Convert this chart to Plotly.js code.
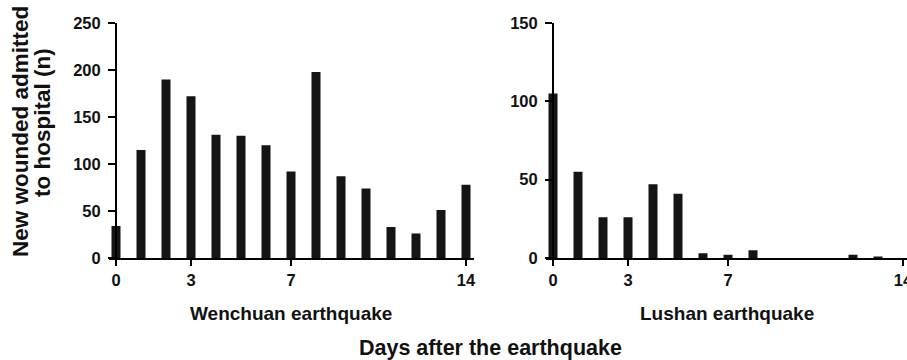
<!DOCTYPE html>
<html>
<head>
<meta charset="utf-8">
<script src="https://cdn.plot.ly/plotly-3.0.1.min.js"></script>
<style>html,body{margin:0;padding:0;background:#fff;}#chart{width:907px;height:360px;}</style>
</head>
<body>
<div id="chart"></div>
<script>
const days = [0,1,2,3,4,5,6,7,8,9,10,11,12,13,14];
const wenchuan = [34,115,190,172,131,130,120,92,198,87,74,33,26,51,78];
const lushan = [105,55,26,26,47,41,3,2,5,0,0,0,2,1,0];
const xTickVals = [0,3,7,14];
const xTickText = ['0','3','7','14'];
const yTitleLine1 = 'New wounded admitted';
const yTitleLine2 = 'to hospital (n)';
const leftLabel = 'Wenchuan earthquake';
const rightLabel = 'Lushan earthquake';
const xTitle = 'Days after the earthquake';

const W = 907, H = 360;
const FONT = '"Liberation Sans", Arial, Helvetica, sans-serif';
const barColor = '#151515';

const traces = [
  {type:'bar', x:days, y:wenchuan, xaxis:'x', yaxis:'y', width:0.36,
   marker:{color:barColor, line:{width:0}}, hoverinfo:'x+y'},
  {type:'bar', x:days, y:lushan, xaxis:'x2', yaxis:'y2', width:0.36,
   marker:{color:barColor, line:{width:0}}, hoverinfo:'x+y'}
];

const tickFont = {family:FONT, size:16.5, color:'#111', weight:'bold'};
const axisCommon = {
  showgrid:false, zeroline:false, showline:true, linecolor:'#000', linewidth:2,
  ticks:'outside', tickcolor:'#000', tickwidth:2, tickfont:tickFont, fixedrange:true,
  ticklabeloverflow:'allow'
};

const yDom = [(H-258)/H, (H-23)/H];

const layout = {
  width:W, height:H,
  margin:{l:0,r:0,t:0,b:0},
  paper_bgcolor:'#fff', plot_bgcolor:'rgba(0,0,0,0)',
  showlegend:false,
  font:{family:FONT, color:'#111'},
  xaxis:Object.assign({}, axisCommon, {
    domain:[108.5/W, 473.5/W], range:[-0.3,14.3], anchor:'y',
    tickmode:'array', tickvals:xTickVals, ticktext:xTickText, ticklen:6
  }),
  yaxis:Object.assign({}, axisCommon, {
    domain:yDom, range:[0,250], dtick:50, tick0:0, anchor:'free', position:116/W, ticklen:7,
    ticklabelstandoff:4
  }),
  xaxis2:Object.assign({}, axisCommon, {
    domain:[545.5/W, 906.5/W], range:[-0.3,14.14], anchor:'y2',
    tickmode:'array', tickvals:xTickVals, ticktext:xTickText, ticklen:6
  }),
  yaxis2:Object.assign({}, axisCommon, {
    domain:yDom, range:[0,150], dtick:50, tick0:0, anchor:'free', position:553/W, ticklen:7,
    ticklabelstandoff:4
  }),
  annotations:[
    {text:yTitleLine1, xref:'paper', yref:'paper', x:20/W, y:1-132/H, xanchor:'center', yanchor:'middle',
     textangle:-90, showarrow:false, font:{family:FONT, size:22.5, color:'#111', weight:'bold'}},
    {text:yTitleLine2, xref:'paper', yref:'paper', x:42/W, y:1-123/H, xanchor:'center', yanchor:'middle',
     textangle:-90, showarrow:false, font:{family:FONT, size:22.5, color:'#111', weight:'bold'}},
    {text:leftLabel, xref:'paper', yref:'paper', x:290.5/W, y:1-313.5/H, xanchor:'center', yanchor:'middle',
     showarrow:false, font:{family:FONT, size:19, color:'#111', weight:'bold'}},
    {text:rightLabel, xref:'paper', yref:'paper', x:726.5/W, y:1-313.5/H, xanchor:'center', yanchor:'middle',
     showarrow:false, font:{family:FONT, size:19, color:'#111', weight:'bold'}},
    {text:xTitle, xref:'paper', yref:'paper', x:490/W, y:1-348/H, xanchor:'center', yanchor:'middle',
     showarrow:false, font:{family:FONT, size:21.5, color:'#111', weight:'bold'}}
  ]
};

Plotly.newPlot('chart', traces, layout, {displayModeBar:false, staticPlot:true});
</script>
</body>
</html>
